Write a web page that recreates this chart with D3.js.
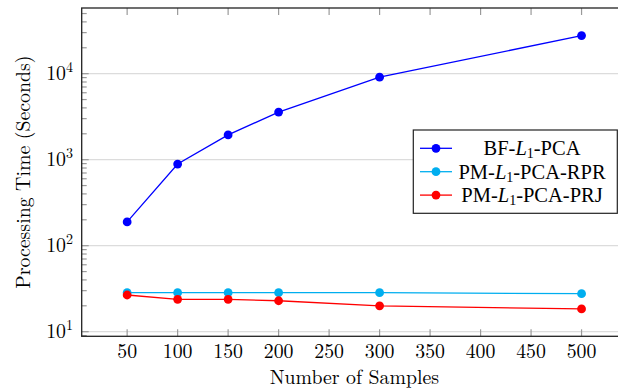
<!DOCTYPE html>
<html>
<head>
<meta charset="utf-8">
<script src="https://cdn.jsdelivr.net/npm/d3@7"></script>
<style>
    body { margin: 0; background: #fff; }
</style>
</head>
<body>
<svg id="chart" width="618" height="389"></svg>
<script>
const samples = [50, 100, 150, 200, 300, 500];
const bfTimes = [189, 890, 1940, 3580, 9100, 27700];
const rprTimes = [28.4, 28.4, 28.4, 28.4, 28.4, 27.7];
const prjTimes = [26.7, 23.8, 23.8, 22.9, 20.0, 18.4];
const seriesNames = ["BF-", "PM-", "PM-"];
const seriesTails = ["-PCA", "-PCA-RPR", "-PCA-PRJ"];
const seriesColors = ["#0000ff", "#00aeef", "#ff0000"];
const xTicks = [50, 100, 150, 200, 250, 300, 350, 400, 450, 500];
const yTicks = [10, 100, 1000, 10000];

// computer modern for the axes, times for the legend
const cm = "'Latin Modern Roman', 'Liberation Serif', monospace";
const times = "'Liberation Serif', 'Tinos', monospace";

const series = [bfTimes, rprTimes, prjTimes].map((vals, i) => ({
    head: seriesNames[i],
    tail: seriesTails[i],
    color: seriesColors[i],
    points: samples.map((s, j) => ({ x: s, y: vals[j] })),
}));

const svg = d3.select("#chart");
const plotL = 81.7, plotR = 627, plotT = 8, plotB = 336.3;

const x = d3.scaleLinear().domain([5, 545]).range([plotL, plotR]);
const y = d3.scaleLog().domain([8.84, 58000]).range([plotB, plotT]);

// grid lines at decades
svg.append("g")
    .selectAll("line")
    .data(yTicks)
    .join("line")
    .attr("x1", plotL).attr("x2", plotR)
    .attr("y1", (d) => y(d)).attr("y2", (d) => y(d))
    .attr("stroke", "#dcdcdc")
    .attr("stroke-width", 1.2);

// minor ticks on log axis
const minor = [];
[1, 10, 100, 1000, 10000].forEach((dec) => {
    d3.range(2, 10).forEach((m) => {
        const v = dec * m;
        if (v > y.domain()[0] && v < y.domain()[1]) minor.push(v);
    });
});

const ticks = svg.append("g").attr("stroke", "#9a9a9a").attr("stroke-width", 1.2);
ticks.selectAll(".minor")
    .data(minor)
    .join("line")
    .attr("class", "minor")
    .attr("x1", plotL).attr("x2", plotL + 5)
    .attr("y1", (d) => y(d)).attr("y2", (d) => y(d));
ticks.selectAll(".major")
    .data(yTicks)
    .join("line")
    .attr("class", "major")
    .attr("x1", plotL).attr("x2", plotL + 7)
    .attr("y1", (d) => y(d)).attr("y2", (d) => y(d));
ticks.selectAll(".xb")
    .data(xTicks)
    .join("line")
    .attr("class", "xb")
    .attr("x1", (d) => x(d)).attr("x2", (d) => x(d))
    .attr("y1", plotB).attr("y2", plotB - 7);
ticks.selectAll(".xt")
    .data(xTicks)
    .join("line")
    .attr("class", "xt")
    .attr("x1", (d) => x(d)).attr("x2", (d) => x(d))
    .attr("y1", plotT).attr("y2", plotT + 7);

// frame
svg.append("rect")
    .attr("x", plotL).attr("y", plotT)
    .attr("width", plotR - plotL).attr("height", plotB - plotT)
    .attr("fill", "none")
    .attr("stroke", "#222")
    .attr("stroke-width", 1.3);

// x tick labels
svg.append("g")
    .selectAll("text")
    .data(xTicks)
    .join("text")
    .attr("font-family", cm)
    .attr("font-size", 19.8)
    .attr("fill", "#000")
    .attr("x", (d) => x(d))
    .attr("y", 358)
    .attr("text-anchor", "middle")
    .text((d) => d);

// y tick labels 10^n
const yl = svg.append("g")
    .selectAll("text")
    .data(yTicks)
    .join("text")
    .attr("font-family", cm)
    .attr("font-size", 19.8)
    .attr("fill", "#000")
    .attr("x", 73)
    .attr("y", (d) => y(d) + 6.5)
    .attr("text-anchor", "end");
yl.append("tspan").text("10");
yl.append("tspan")
    .attr("dy", -8)
    .attr("font-size", 14)
    .text((d) => Math.round(Math.log10(d)));

// axis titles
svg.append("text")
    .attr("font-family", cm)
    .attr("font-size", 19.8)
    .attr("fill", "#000")
    .attr("x", (plotL + plotR) / 2)
    .attr("y", 383.5)
    .attr("text-anchor", "middle")
    .text("Number of Samples");

svg.append("text")
    .attr("font-family", cm)
    .attr("font-size", 19.8)
    .attr("fill", "#000")
    .attr("transform", `translate(30, ${(plotT + plotB) / 2}) rotate(-90)`)
    .attr("text-anchor", "middle")
    .text("Processing Time (Seconds)");

// series
const line = d3.line().x((d) => x(d.x)).y((d) => y(d.y));

series.forEach((s) => {
    svg.append("path")
        .datum(s.points)
        .attr("d", line)
        .attr("fill", "none")
        .attr("stroke", s.color)
        .attr("stroke-width", 1.3);
    svg.append("g")
        .selectAll("circle")
        .data(s.points)
        .join("circle")
        .attr("cx", (d) => x(d.x))
        .attr("cy", (d) => y(d.y))
        .attr("r", 4.4)
        .attr("fill", s.color);
});

// legend
const legend = svg.append("g");
legend.append("rect")
    .attr("x", 413.3).attr("y", 130)
    .attr("width", 204).attr("height", 83.3)
    .attr("fill", "#fff")
    .attr("stroke", "#222")
    .attr("stroke-width", 1.2);

series.forEach((s, i) => {
    const ly = 148.3 + i * 23.4;
    legend.append("line")
        .attr("x1", 420).attr("x2", 452)
        .attr("y1", ly).attr("y2", ly)
        .attr("stroke", s.color)
        .attr("stroke-width", 1.3);
    legend.append("circle")
        .attr("cx", 436).attr("cy", ly)
        .attr("r", 4.4)
        .attr("fill", s.color);
    const t = legend.append("text")
        .attr("font-family", times)
        .attr("font-size", 20.5)
        .attr("fill", "#000")
        .attr("x", 532)
        .attr("y", ly + 6.8)
        .attr("text-anchor", "middle");
    t.append("tspan").text(s.head);
    t.append("tspan").attr("font-style", "italic").text("L");
    t.append("tspan").attr("dy", 3).attr("font-size", 14).text("1");
    t.append("tspan").attr("dy", -3).text(s.tail);
});
</script>
</body>
</html>
